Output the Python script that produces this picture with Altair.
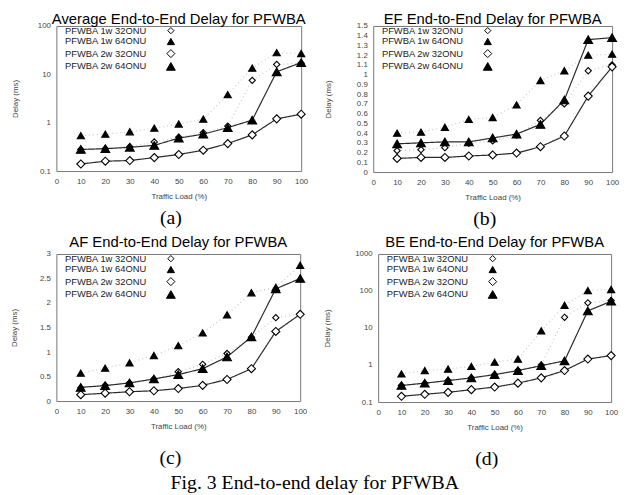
import altair as alt
import pandas as pd

load = [10, 20, 30, 40, 50, 60, 70, 80, 90, 100]
series_names = ["PFWBA 1w 32ONU", "PFWBA 1w 64ONU", "PFWBA 2w 32ONU", "PFWBA 2w 64ONU"]

# (a) Average end-to-end delay (ms), log scale
avg_1w32 = [0.28, 0.29, 0.32, 0.40, 0.50, 0.62, 0.85, 7.5, 16, 17]
avg_1w64 = [0.54, 0.58, 0.65, 0.77, 0.94, 1.19, 3.8, 13.5, 28, 27]
avg_2w32 = [0.14, 0.16, 0.165, 0.19, 0.22, 0.27, 0.37, 0.56, 1.2, 1.5]
avg_2w64 = [0.28, 0.29, 0.31, 0.34, 0.48, 0.58, 0.79, 1.13, 11.3, 17.5]

# (b) EF end-to-end delay (ms)
ef_1w32 = [0.22, 0.23, 0.25, 0.295, 0.32, 0.38, 0.53, 0.70, 1.04, 1.10]
ef_1w64 = [0.40, 0.41, 0.46, 0.54, 0.56, 0.69, 0.94, 1.04, 1.20, 1.21]
ef_2w32 = [0.14, 0.15, 0.15, 0.165, 0.175, 0.195, 0.26, 0.37, 0.78, 1.08]
ef_2w64 = [0.29, 0.30, 0.31, 0.31, 0.35, 0.39, 0.49, 0.74, 1.36, 1.38]

# (c) AF end-to-end delay (ms)
af_1w32 = [0.27, 0.32, 0.37, 0.45, 0.60, 0.75, 0.97, 1.30, 1.70, 1.78]
af_1w64 = [0.57, 0.67, 0.78, 0.93, 1.13, 1.39, 1.76, 2.21, 2.32, 2.77]
af_2w32 = [0.13, 0.16, 0.19, 0.21, 0.255, 0.32, 0.44, 0.66, 1.42, 1.77]
af_2w64 = [0.28, 0.315, 0.37, 0.45, 0.54, 0.66, 0.90, 1.31, 2.29, 2.50]

# (d) BE end-to-end delay (ms), log scale
be_1w32 = [0.28, 0.32, 0.38, 0.45, 0.55, 0.72, 1.0, 19.5, 48, 55]
be_1w64 = [0.575, 0.71, 0.78, 0.92, 1.2, 1.45, 8.4, 41, 103, 110]
be_2w32 = [0.143, 0.162, 0.183, 0.216, 0.254, 0.324, 0.45, 0.71, 1.45, 1.8]
be_2w64 = [0.28, 0.324, 0.38, 0.45, 0.55, 0.71, 0.96, 1.3, 29, 53]

x_ticks = [0, 10, 20, 30, 40, 50, 60, 70, 80, 90, 100]
ticks_a = [0.1, 1, 10, 100]
ticks_b = [0, 0.1, 0.2, 0.3, 0.4, 0.5, 0.6, 0.7, 0.8, 0.9, 1, 1.1, 1.2, 1.3, 1.4, 1.5]
ticks_c = [0, 0.5, 1, 1.5, 2, 2.5, 3]
ticks_d = [0.1, 1, 10, 100, 1000]

FONT = "Liberation Sans"
SERIF = "Liberation Serif"

INDEP = dict(color="independent", shape="independent", fill="independent", stroke="independent",
             size="independent", strokeDash="independent", strokeWidth="independent")
LEG_INDEP = dict(shape="independent", fill="independent", size="independent", stroke="independent")


def make_df(vals):
    rows = []
    for name, v in zip(series_names, vals):
        for x, y in zip(load, v):
            rows.append({"load": x, "delay": y, "series": name})
    return pd.DataFrame(rows)


def panel(title, vals, log, domain, ticks, W, H, title_pad, caption, cap_dy, t_off):
    df = make_df(vals)
    if log:
        yscale = alt.Scale(type="log", domain=domain)
    else:
        yscale = alt.Scale(domain=domain, nice=False, zero=False)
    xenc = alt.X("load:Q", scale=alt.Scale(domain=[0, 100], nice=False),
                 axis=alt.Axis(values=x_ticks, title="Traffic Load (%)", labelPadding=7,
                               titlePadding=7, labelFlush=False))
    yenc = alt.Y("delay:Q", scale=yscale,
                 axis=alt.Axis(values=ticks, format="~g", title="Delay (ms)",
                               labelPadding=6, titlePadding=title_pad, labelFlush=False))
    sdom = series_names
    lines = alt.Chart(df).mark_line().encode(
        x=xenc, y=yenc,
        color=alt.Color("series:N", scale=alt.Scale(domain=sdom, range=["#c8c8c8", "#c8c8c8", "#2a2a2a", "#2a2a2a"]), legend=None),
        strokeDash=alt.StrokeDash("series:N", scale=alt.Scale(domain=sdom, range=[[1, 3], [1, 3], [1, 0], [1, 0]]), legend=None),
        strokeWidth=alt.StrokeWidth("series:N", scale=alt.Scale(domain=sdom, range=[1.2, 1.2, 1.8, 1.8]), legend=None),
    )
    leg = alt.Legend(orient="none", legendX=3, legendY=0, title=None, labelFont=FONT,
                     labelFontSize=9.5, labelColor="#222", symbolOffset=108,
                     labelOffset={"expr": "-30"},
                     labelAlign="right", rowPadding=0, symbolStrokeWidth=1, padding=0,
                     labelLimit=0)
    points = alt.Chart(df).mark_point(filled=True, strokeWidth=1.1, opacity=1).encode(
        x=xenc, y=yenc,
        shape=alt.Shape("series:N", scale=alt.Scale(domain=sdom, range=["diamond", "triangle-up", "diamond", "triangle-up"]), legend=leg),
        fill=alt.Fill("series:N", scale=alt.Scale(domain=sdom, range=["white", "black", "white", "black"]), legend=leg),
        stroke=alt.Stroke("series:N", scale=alt.Scale(domain=sdom, range=["black", "black", "black", "black"]), legend=leg),
        size=alt.Size("series:N", scale=alt.Scale(domain=sdom, range=[40, 80, 28, 80]), legend=leg),
    )
    cap = alt.Chart(pd.DataFrame({"cap": [caption]})).mark_text(
        font=SERIF, fontSize=20, baseline="middle", align="center", color="black"
    ).encode(text="cap:N", x=alt.value(W / 2 - 8), y=alt.value(H + cap_dy))
    return alt.layer(lines, points, cap).properties(
        width=W, height=H,
        title=alt.TitleParams(title, font=FONT, fontSize=15, fontWeight="normal", color="black",
                              anchor="middle", offset=t_off),
    ).resolve_scale(**INDEP)


pa = panel("Average End-to-End Delay for PFWBA", [avg_1w32, avg_1w64, avg_2w32, avg_2w64],
           True, [0.1, 100], ticks_a, 248, 147, 18, "(a)", 48, -5)
pb = panel("EF End-to-End Delay for PFWBA", [ef_1w32, ef_1w64, ef_2w32, ef_2w64],
           False, [0, 1.5], ticks_b, 242, 148, 24, "(b)", 48, -5)
pc = panel("AF End-to-End Delay for PFWBA", [af_1w32, af_1w64, af_2w32, af_2w64],
           False, [0, 3], ticks_c, 247, 149, 21, "(c)", 58, 0)
pd_ = panel("BE End-to-End Delay for PFWBA", [be_1w32, be_1w64, be_2w32, be_2w64],
            True, [0.1, 1000], ticks_d, 236, 150, 23, "(d)", 58, 0)

row1 = alt.hconcat(pa, pb, spacing=15).resolve_scale(**INDEP).resolve_legend(**LEG_INDEP)
row2 = alt.hconcat(pc, pd_, spacing=15).resolve_scale(**INDEP).resolve_legend(**LEG_INDEP)

chart = alt.vconcat(row1, row2, spacing=4).resolve_scale(**INDEP).resolve_legend(
    **LEG_INDEP
).properties(
    title=alt.TitleParams("Fig. 3 End-to-end delay for PFWBA", orient="bottom", anchor="middle",
                          font=SERIF, fontSize=20, fontWeight="normal", color="black", offset=4),
    padding={"left": 2, "top": 0, "right": 0, "bottom": 0},
).configure_view(
    stroke="#777777", strokeWidth=1
).configure_axis(
    labelFont=FONT, labelFontSize=8, labelColor="#444444",
    titleFont=FONT, titleFontSize=8, titleFontWeight="normal", titleColor="#444444",
    domain=False, grid=False, ticks=False,
)

chart.save("out.html", embed_options={"renderer": "svg", "actions": False})
